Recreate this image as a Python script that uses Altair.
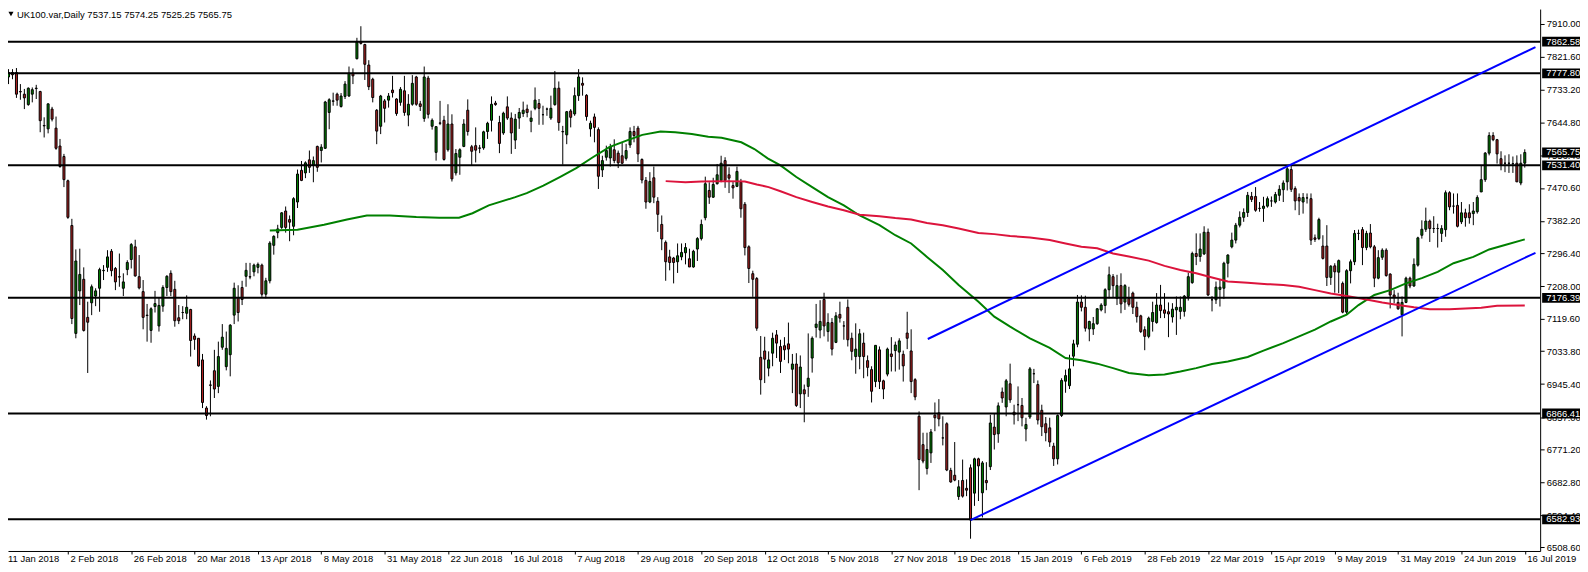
import altair as alt
import pandas as pd

# ---------------- data ----------------
O = [7768,7780,7780,7729,7722,7694,7722,7737,7729,7638,7629,7682,7631,7583,7555,7490,7370,7081,7195,7226,
     7124,7163,7181,7202,7249,7258,7301,7255,7233,7202,7252,7279,7313,7233,7193,7130,7089,7153,7101,7154,
     7204,7242,7199,7123,7137,7135,7145,7074,7068,7010,6881,6943,6981,6939,7044,6992,7024,7130,7177,7204,
     7234,7233,7246,7258,7264,7186,7222,7317,7351,7365,7409,7386,7368,7433,7518,7511,7546,7532,7582,7571,
     7577,7673,7704,7722,7689,7716,7717,7778,7817,7863,7855,7800,7762,7679,7636,7704,7706,7733,7709,7700,
     7731,7666,7695,7768,7696,7657,7765,7636,7566,7645,7652,7573,7642,7511,7553,7582,7679,7581,7584,7578,
     7578,7622,7652,7698,7646,7618,7688,7658,7599,7658,7670,7682,7649,7684,7697,7667,7682,7658,7694,7738,
     7622,7613,7677,7669,7718,7751,7719,7629,7661,7627,7519,7553,7551,7573,7564,7557,7550,7586,7622,7631,
     7547,7491,7433,7498,7435,7373,7325,7286,7283,7273,7286,7297,7281,7259,7307,7335,7391,7464,7446,7482,
     7491,7544,7506,7477,7475,7486,7427,7313,7241,7228,7017,7034,6988,7028,7077,7046,7048,7053,6985,6999,
     6919,6930,6939,7015,7097,7090,7172,7086,7110,7057,7132,7101,7151,7068,7019,7019,7055,7008,6984,6952,
     7037,6954,6972,7026,7035,7031,7025,7082,7034,6957,6859,6783,6719,6761,6862,6868,6801,6839,6714,6701,
     6644,6687,6666,6721,6653,6745,6654,6687,6724,6830,6812,6924,6884,6946,6870,6890,6888,6825,6857,6973,
     6944,6875,6839,6828,6779,6745,6861,6953,6941,7020,7052,7165,7151,7093,7093,7107,7144,7156,7198,7233,
     7175,7209,7165,7175,7189,7151,7128,7091,7073,7113,7110,7157,7144,7139,7125,7144,7140,7140,7180,7217,
     7295,7287,7294,7352,7171,7171,7199,7202,7269,7313,7331,7371,7392,7405,7448,7448,7416,7416,7422,7436,
     7433,7451,7466,7487,7520,7469,7445,7433,7444,7442,7337,7335,7315,7315,7231,7262,7245,7215,7138,7249,
     7273,7349,7359,7311,7350,7313,7229,7285,7304,7240,7184,7164,7131,7164,7229,7208,7264,7344,7360,7382,
     7362,7362,7349,7359,7458,7422,7424,7380,7404,7404,7402,7407,7460,7493,7564,7611,7600,7549,7537,7537,
     7536,7537,7484,7537.15]
H = [7789,7789,7792,7749,7736,7740,7740,7747,7731,7660,7697,7688,7662,7602,7562,7493,7388,7306,7308,7258,
     7166,7212,7202,7257,7264,7304,7307,7259,7295,7242,7277,7323,7332,7291,7224,7160,7151,7195,7177,7210,
     7237,7250,7222,7157,7154,7183,7147,7081,7068,7026,6886,6955,7037,7059,7106,7086,7106,7217,7210,7222,
     7270,7270,7268,7271,7268,7230,7328,7344,7372,7406,7421,7397,7446,7520,7543,7542,7571,7555,7584,7588,
     7704,7711,7726,7726,7725,7757,7796,7791,7873,7904,7857,7813,7766,7682,7720,7709,7725,7771,7711,7741,
     7771,7722,7773,7771,7704,7796,7771,7657,7636,7704,7664,7695,7668,7575,7577,7655,7708,7586,7633,7586,
     7624,7648,7716,7704,7664,7675,7716,7673,7669,7685,7702,7694,7678,7740,7709,7691,7686,7718,7784,7756,
     7637,7677,7682,7740,7789,7767,7722,7651,7670,7633,7557,7584,7589,7601,7571,7593,7589,7633,7637,7637,
     7550,7500,7513,7528,7446,7397,7330,7305,7286,7322,7322,7323,7308,7305,7339,7386,7501,7486,7498,7535,
     7557,7553,7526,7489,7528,7495,7433,7317,7249,7232,7074,7072,7033,7083,7090,7064,7071,7110,7026,7028,
     7022,6944,7081,7073,7160,7170,7190,7135,7122,7138,7166,7114,7172,7083,7108,7093,7083,7022,6993,7050,
     7046,6957,7043,7071,7059,7068,7035,7139,7092,6961,6872,6815,6815,6825,6896,6905,6859,6843,6721,6790,
     6688,6743,6690,6730,6748,6748,6739,6736,6863,6865,6896,6936,6959,7000,6890,6939,6908,6855,6991,6986,
     6955,6890,6857,6855,6788,6864,6961,6984,7024,7064,7184,7183,7182,7115,7125,7149,7162,7202,7260,7240,
     7238,7242,7213,7206,7193,7166,7131,7100,7126,7166,7189,7211,7189,7164,7162,7180,7180,7184,7244,7300,
     7349,7349,7368,7362,7181,7220,7224,7273,7293,7351,7377,7408,7416,7460,7460,7473,7433,7447,7448,7448,
     7460,7478,7491,7531,7531,7475,7456,7457,7456,7456,7346,7391,7344,7371,7264,7269,7279,7220,7253,7279,
     7358,7359,7366,7356,7374,7318,7304,7309,7309,7242,7197,7190,7180,7233,7233,7282,7340,7384,7418,7386,
     7395,7375,7371,7464,7462,7456,7456,7433,7415,7427,7433,7451,7531,7567,7620,7620,7602,7569,7558,7561,
     7555,7558,7561,7574.25]
L = [7749,7762,7712,7707,7682,7691,7700,7709,7620,7606,7617,7649,7573,7525,7473,7388,7106,7068,7157,7086,
     6975,7130,7154,7139,7224,7246,7234,7197,7206,7181,7237,7255,7233,7199,7092,7059,7056,7137,7086,7139,
     7181,7181,7099,7106,7119,7119,7019,7037,6992,6881,6850,6859,6908,6921,7037,6982,6966,7106,7113,7157,
     7206,7226,7234,7242,7179,7175,7215,7292,7336,7361,7351,7328,7344,7417,7489,7497,7511,7486,7514,7539,
     7575,7628,7691,7691,7686,7709,7715,7749,7815,7855,7760,7733,7700,7588,7615,7646,7686,7713,7664,7691,
     7664,7636,7691,7691,7677,7648,7657,7627,7544,7639,7544,7568,7488,7504,7506,7580,7611,7532,7539,7564,
     7573,7602,7622,7691,7564,7613,7653,7562,7575,7629,7661,7660,7620,7679,7640,7640,7664,7653,7691,7624,
     7533,7588,7633,7664,7704,7718,7651,7608,7593,7468,7500,7544,7528,7537,7524,7535,7544,7578,7593,7540,
     7483,7415,7430,7430,7353,7304,7222,7250,7215,7243,7277,7266,7259,7257,7275,7330,7384,7428,7444,7480,
     7486,7471,7457,7442,7473,7391,7290,7216,7179,7088,6917,6948,6966,6993,7015,6975,7010,7001,6921,6884,
     6881,6843,6911,6976,7070,7068,7073,7059,7022,7055,7110,7064,7046,7009,6973,6985,6961,6966,6896,6937,
     6932,6905,6966,6979,6979,6984,6952,7039,6921,6902,6661,6733,6703,6734,6819,6832,6781,6712,6681,6685,
     6635,6641,6645,6531,6619,6632,6588,6661,6715,6770,6788,6895,6859,6895,6837,6846,6832,6792,6852,6948,
     6837,6806,6792,6777,6726,6730,6857,6922,6932,6993,7044,7140,7086,7060,7077,7104,7140,7135,7175,7178,
     7157,7135,7144,7153,7133,7110,7082,7036,7068,7086,7107,7122,7122,7071,7110,7077,7119,7126,7169,7214,
     7264,7273,7291,7181,7140,7160,7153,7173,7231,7309,7322,7365,7380,7393,7433,7407,7407,7380,7418,7420,
     7429,7436,7433,7464,7460,7411,7398,7402,7429,7318,7326,7331,7279,7208,7211,7190,7189,7135,7133,7215,
     7264,7331,7264,7304,7309,7205,7226,7278,7233,7148,7162,7144,7073,7162,7202,7206,7260,7335,7353,7326,
     7350,7311,7326,7340,7411,7402,7365,7374,7367,7375,7371,7402,7460,7487,7558,7596,7536,7518,7513,7511,
     7511,7487,7478,7525.25]
C = [7780,7774,7722,7728,7712,7738,7734,7738,7651,7637,7696,7655,7577,7528,7493,7392,7121,7275,7239,7089,
     7111,7206,7195,7252,7250,7286,7249,7219,7232,7219,7271,7319,7235,7203,7124,7129,7147,7161,7156,7204,
     7234,7193,7115,7115,7137,7151,7062,7065,6994,6896,6861,6942,6932,7019,7071,7041,7103,7202,7137,7172,
     7250,7232,7264,7266,7186,7222,7323,7341,7361,7404,7365,7379,7442,7508,7491,7538,7526,7544,7526,7580,
     7701,7707,7703,7706,7717,7749,7778,7771,7862,7858,7802,7742,7713,7623,7717,7684,7717,7726,7670,7735,
     7673,7695,7751,7695,7689,7768,7668,7652,7635,7644,7547,7642,7495,7563,7573,7642,7622,7569,7572,7577,
     7621,7644,7695,7694,7590,7671,7658,7618,7655,7673,7679,7673,7658,7706,7684,7667,7682,7684,7738,7646,
     7621,7675,7660,7718,7768,7746,7662,7644,7633,7502,7544,7571,7581,7544,7538,7537,7571,7622,7611,7562,
     7492,7433,7488,7446,7400,7334,7273,7271,7271,7289,7298,7311,7259,7301,7335,7373,7482,7446,7480,7506,
     7537,7491,7497,7471,7515,7415,7311,7255,7226,7095,6957,7012,7010,7068,7055,7006,7037,7039,6999,6888,
     6991,6919,6961,7068,7106,7113,7101,7110,7039,7128,7122,7101,7064,7033,7039,7080,7019,6990,6926,7049,
     6952,6932,7039,7019,7050,7061,6994,7068,6952,6911,6743,6739,6770,6817,6855,6852,6801,6715,6683,6688,
     6670,6645,6661,6581,6745,6726,6734,6681,6841,6810,6887,6908,6954,6903,6863,6890,6855,6837,6986,6973,
     6849,6831,6815,6790,6745,6861,6955,6968,6986,7053,7165,7151,7095,7113,7107,7147,7157,7198,7238,7209,
     7209,7160,7209,7159,7151,7126,7086,7073,7122,7137,7157,7142,7135,7133,7146,7151,7151,7181,7233,7295,
     7287,7307,7352,7184,7171,7205,7205,7269,7291,7331,7371,7392,7405,7451,7440,7411,7416,7422,7442,7436,
     7453,7467,7484,7522,7467,7436,7436,7445,7444,7331,7333,7386,7282,7231,7261,7246,7276,7138,7249,7273,
     7349,7349,7311,7349,7313,7229,7284,7304,7236,7184,7178,7147,7164,7229,7208,7266,7337,7360,7382,7362,
     7362,7362,7362,7458,7420,7422,7368,7404,7391,7391,7409,7445,7493,7564,7611,7600,7562,7534,7537,7537,
     7536,7487,7537,7565.75]

# x-axis tick labels (one every 16 bars; bar 0 of this list is 12 Jan 2018)
date_labels = ["11 Jan 2018", "2 Feb 2018", "26 Feb 2018", "20 Mar 2018", "13 Apr 2018", "8 May 2018",
               "31 May 2018", "22 Jun 2018", "16 Jul 2018", "7 Aug 2018", "29 Aug 2018", "20 Sep 2018",
               "12 Oct 2018", "5 Nov 2018", "27 Nov 2018", "19 Dec 2018", "15 Jan 2019", "6 Feb 2019",
               "28 Feb 2019", "22 Mar 2019", "15 Apr 2019", "9 May 2019", "31 May 2019", "24 Jun 2019",
               "16 Jul 2019"]
price_ticks = [7910.00, 7821.60, 7733.20, 7644.80, 7556.40, 7470.60, 7382.20, 7296.40, 7208.00,
               7119.60, 7033.80, 6945.40, 6857.00, 6771.20, 6682.80, 6594.40, 6508.60]
levels = [7862.58, 7777.80, 7531.40, 7176.39, 6866.41, 6582.93]
last_price = 7565.75
title_text = "UK100.var,Daily  7537.15 7574.25 7525.25 7565.75"

# moving averages (bar index, value)
ma_green_i = [66, 73, 79.7, 85.5, 90.5, 96.3, 103, 108.8, 113.8, 117.2, 121.3, 128, 130.9, 135.1, 139.25,
              143.4, 147.6, 151.75, 155.9, 160.1, 164.7, 168.4, 172.6, 176.75, 180.1, 185.1, 188.4, 191.75,
              195, 199, 203, 207, 211, 215, 220, 224, 228, 232, 236, 240, 245, 249, 253, 258, 263, 267, 271,
              275, 279, 283, 288, 292, 296, 300, 304, 308, 313, 317, 322, 326, 330, 334, 338, 341, 345, 349,
              353, 357, 361, 365, 370, 374, 378, 383]
ma_green_v = [7357, 7359, 7372, 7386, 7397, 7397, 7393, 7391, 7391, 7403, 7424, 7446, 7457, 7477, 7500,
              7524, 7553, 7580, 7597, 7613, 7622, 7620, 7615, 7608, 7605, 7593, 7575, 7550,
              7531, 7500, 7473, 7446, 7424, 7397, 7371, 7344, 7322, 7286, 7251, 7211, 7166, 7126, 7099, 7068,
              7042, 7015, 7009, 7000, 6988, 6975, 6969, 6971, 6979, 6988, 6999, 7006, 7018, 7035, 7055, 7073,
              7091, 7113, 7131, 7157, 7184, 7197, 7215, 7229, 7246, 7269, 7286, 7306, 7318, 7333]
ma_red_i = [166, 171, 175, 181, 186, 189, 192, 195, 199, 203, 207, 211, 215, 220, 224, 228, 232, 236, 240,
            245, 249, 253, 258, 263, 267, 271, 275, 279, 283, 288, 292, 296, 300, 304, 308, 313, 318, 322,
            326, 330, 334, 338, 343, 347, 351, 355, 359, 364, 368, 372, 376, 383]
ma_red_v = [7489, 7486, 7488, 7489, 7488, 7480, 7473, 7462, 7446, 7433, 7421, 7411, 7399, 7395, 7390, 7386,
            7377, 7371, 7362, 7350, 7347, 7342, 7338, 7331, 7322, 7313, 7309, 7295, 7287, 7276, 7262, 7251,
            7242, 7231, 7220, 7217, 7213, 7211, 7206, 7197, 7188, 7181, 7172, 7164, 7157, 7151, 7146, 7146,
            7148, 7150, 7155, 7156]
# channel trend lines (bar index, price)
upper_i = [232.2, 385.7]
upper_v = [7066, 7848]
lower_i = [243, 385.7]
lower_v = [6581, 7297]

# ---------------- chart ----------------
FONT = "Liberation Sans"
FS = 9.5
W, HGT = 1538, 544
xs = alt.Scale(domain=[1.125, 385.625], nice=False, zero=False)
ys = alt.Scale(domain=[6498.1, 7950.0], nice=False, zero=False)

bars = pd.DataFrame({"i": list(range(len(C))), "o": O, "h": H, "l": L, "c": C})

label_array = "[" + ",".join("'%s'" % s for s in date_labels) + "]"
x_axis = alt.Axis(values=[-1 + 16 * k for k in range(1, len(date_labels))],
                  labelExpr=label_array + "[round((datum.value + 1) / 16)]",
                  orient="bottom", title=None, grid=False, domain=True, domainColor="black",
                  domainWidth=1, ticks=True, tickColor="black", tickSize=3, tickWidth=1,
                  labelAlign="left", labelBaseline="top", labelPadding=0, labelOffset=2,
                  labelFont=FONT, labelFontSize=FS, labelColor="black", labelOverlap=False,
                  labelFlush=False)
y_axis = alt.Axis(values=price_ticks, format=".2f", orient="right", title=None, grid=False,
                  domain=True, domainColor="black", domainWidth=1, ticks=True, tickColor="black",
                  tickSize=4, tickWidth=1, labelAlign="left", labelBaseline="middle", labelPadding=2,
                  labelFont=FONT, labelFontSize=FS, labelColor="black", labelOverlap=False,
                  labelFlush=False)


def X(f):
    return alt.X(f, scale=xs, axis=x_axis, title=None)


def Y(f):
    return alt.Y(f, scale=ys, axis=y_axis, title=None)


up_col = "#008000"
dn_col = "#b22222"

wicks = alt.Chart(bars).mark_rule(color="black", strokeWidth=1, clip=True).encode(
    x=X("i:Q"), y=Y("l:Q"), y2="h:Q")
bodies = alt.Chart(bars).mark_bar(width=2, stroke="black", strokeWidth=1, clip=True).encode(
    x=X("i:Q"), y=Y("o:Q"), y2="c:Q",
    fill=alt.condition("datum.c >= datum.o", alt.value(up_col), alt.value(dn_col)),
)

green_df = pd.DataFrame({"i": ma_green_i, "v": ma_green_v})
red_df = pd.DataFrame({"i": ma_red_i, "v": ma_red_v})
ma_green = alt.Chart(green_df).mark_line(color="#008000", strokeWidth=2, clip=True).encode(
    x=X("i:Q"), y=Y("v:Q"))
ma_red = alt.Chart(red_df).mark_line(color="#dc143c", strokeWidth=2, clip=True).encode(
    x=X("i:Q"), y=Y("v:Q"))

lv_df = pd.DataFrame({"p": levels})
hlines = alt.Chart(lv_df).mark_rule(color="black", strokeWidth=2).encode(y=Y("p:Q"))

tl_df = pd.DataFrame({"i": upper_i + lower_i, "v": upper_v + lower_v,
                      "g": ["up"] * len(upper_i) + ["lo"] * len(lower_i)})
trend = alt.Chart(tl_df).mark_line(color="#0000ff", strokeWidth=2, clip=True).encode(
    x=X("i:Q"), y=Y("v:Q"), detail="g:N")

box_df = pd.DataFrame({"p": levels + [last_price]})
box_df["t"] = box_df["p"].map(lambda v: "%.2f" % v)
box_path = "M-1,-0.26L1,-0.26L1,0.26L-1,0.26Z"
boxes = alt.Chart(box_df).mark_point(shape=box_path, filled=True, fill="black", opacity=1,
                                     strokeWidth=0, size=1444).encode(
    x=alt.value(W + 21), y=Y("p:Q"))
box_text = alt.Chart(box_df).mark_text(color="white", font=FONT, fontSize=FS, align="left",
                                       baseline="middle").encode(
    x=alt.value(W + 6), y=Y("p:Q"), text="t:N")

title_df = pd.DataFrame({"t": [title_text]})
tri = alt.Chart(title_df).mark_point(shape="triangle-down", filled=True, fill="black", opacity=1,
                                     size=26, strokeWidth=0).encode(
    x=alt.value(3), y=alt.value(5))
title = alt.Chart(title_df).mark_text(font=FONT, fontSize=FS, align="left", baseline="top",
                                      color="black").encode(
    x=alt.value(9), y=alt.value(1), text="t:N")
first_lbl = alt.Chart(pd.DataFrame({"t": [date_labels[0]]})).mark_text(
    font=FONT, fontSize=FS, align="left", baseline="top", color="black").encode(
    x=alt.value(0), y=alt.value(HGT + 3), text="t:N")

chart = alt.layer(wicks, bodies, ma_green, ma_red, hlines, trend, boxes, box_text, tri, title,
                  first_lbl).properties(
    width=W, height=HGT,
    padding={"left": 0, "top": 0, "right": 40, "bottom": 12},
    autosize=alt.AutoSizeParams(type="none"),
    background="white",
).configure_view(strokeWidth=0)

chart.save("out.html", embed_options={"renderer": "svg", "actions": False})
